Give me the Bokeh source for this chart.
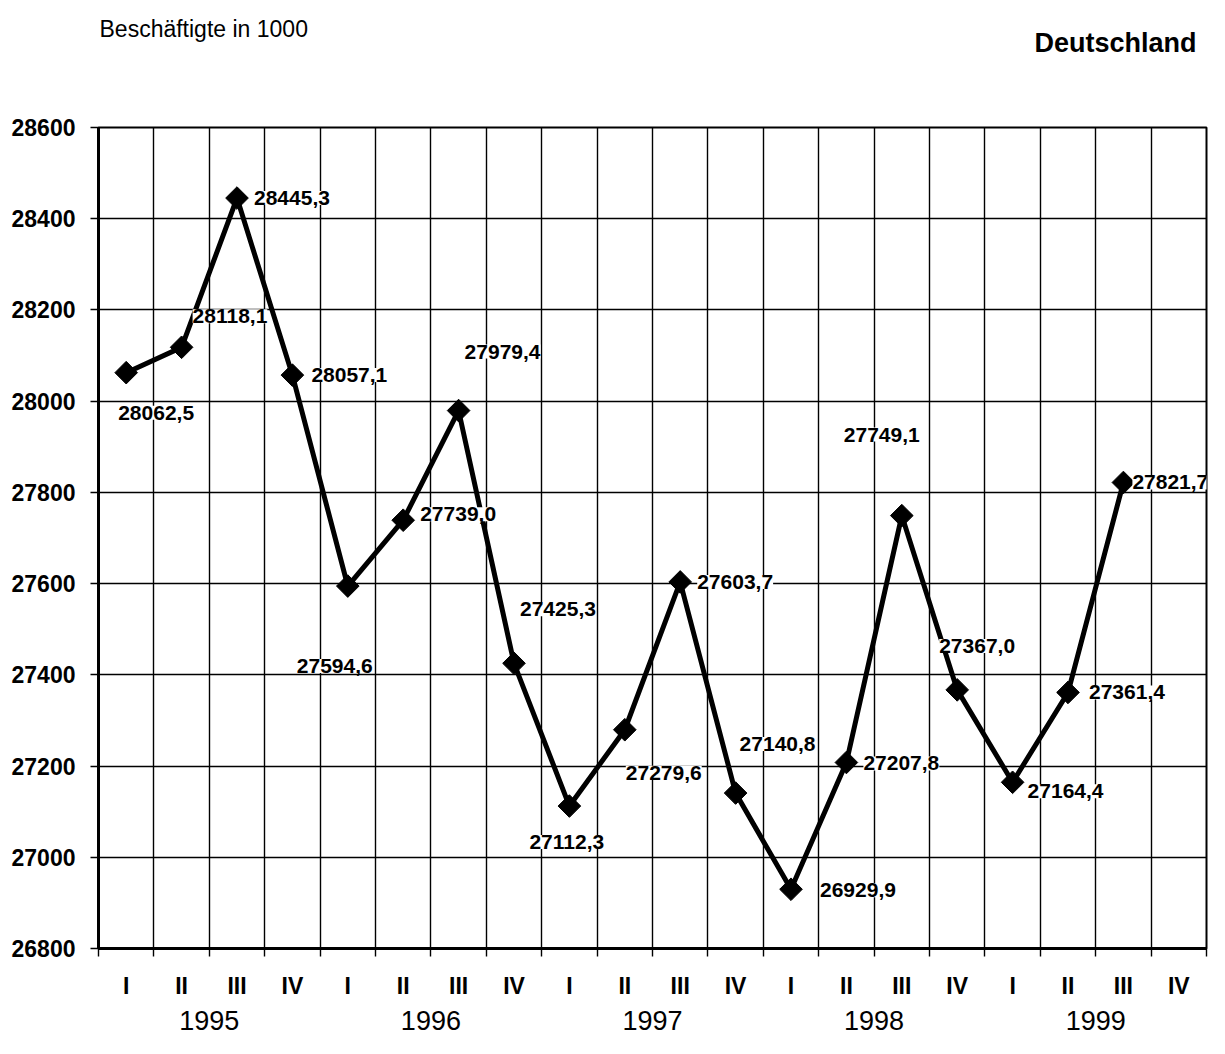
import math
from bokeh.plotting import figure
from bokeh.layouts import column
from bokeh.models import (ColumnDataSource, FixedTicker, Range1d, LabelSet, LinearAxis)
from bokeh.core.properties import value
from bokeh.embed import file_html
from bokeh.resources import INLINE

# ---- data ----
years = ["1995", "1996", "1997", "1998", "1999"]
quarters = ["I", "II", "III", "IV"]
employed = [28062.5, 28118.1, 28445.3, 28057.1,
            27594.6, 27739.0, 27979.4, 27425.3,
            27112.3, 27279.6, 27603.7, 27140.8,
            26929.9, 27207.8, 27749.1, 27367.0,
            27164.4, 27361.4, 27821.7]
y_ticks = [26800, 27000, 27200, 27400, 27600, 27800, 28000, 28200, 28400, 28600]
title_left = "Beschäftigte in 1000"
title_right = "Deutschland"

# ---- label placement (screen px offsets from each point) ----
label_dx = [-8, 11, 17, 19, -51, 17, 6, 6, -40, 1, 17, 4, 29, 17, -58, -18, 15, 21, 9]
label_dy = [-40, 31, 0, 0, -80, 6, 59, 54, -36, -43, 0, 49, -1, -1, 81, 44, -9, 0, 0]

FONT = "Liberation Sans"
W = 1209
HEAD_H = 112
LEFT, RIGHT = 98, 3

n_slots = len(years) * len(quarters)
xs = [i + 0.5 for i in range(len(employed))]
texts = [f"{v:.1f}".replace(".", ",") for v in employed]
src = ColumnDataSource(dict(x=xs, y=employed, text=texts, dx=label_dx, dy=label_dy))

# ---- header strip with the two headings (frame is aligned with the chart frame) ----
head = figure(width=W, height=HEAD_H, x_range=Range1d(LEFT, W - RIGHT), y_range=Range1d(HEAD_H, 0),
              output_backend="svg", toolbar_location=None,
              min_border_left=LEFT, min_border_right=RIGHT, min_border_top=0, min_border_bottom=0)
head.axis.visible = False
head.grid.visible = False
head.outline_line_color = None
head.text(x=[LEFT + 1], y=[28], text=[title_left], text_align="left", text_baseline="middle",
          text_font=value(FONT), text_font_size="23px", text_color="black")
head.text(x=[1196], y=[42], text=[title_right], text_align="right", text_baseline="middle",
          text_font=value(FONT), text_font_style="bold", text_font_size="27px",
          text_color="black")

# ---- main chart ----
p = figure(width=W, height=1038 - HEAD_H,
           x_range=Range1d(0, n_slots), y_range=Range1d(y_ticks[0], y_ticks[-1]),
           output_backend="svg", toolbar_location=None,
           min_border_left=LEFT, min_border_right=RIGHT,
           min_border_top=15, min_border_bottom=90)
p.background_fill_color = "white"
p.border_fill_color = "white"
p.outline_line_color = "black"
p.outline_line_width = 2

p.xgrid.ticker = FixedTicker(ticks=list(range(n_slots + 1)))
p.ygrid.ticker = FixedTicker(ticks=y_ticks)
for g in (p.xgrid, p.ygrid):
    g.grid_line_color = "black"
    g.grid_line_width = 1.4
    g.grid_line_alpha = 1

# x axis: roman numerals at slot centers, tick marks on the boundaries
xa = p.xaxis[0]
xa.ticker = FixedTicker(ticks=[i + 0.5 for i in range(n_slots)],
                        minor_ticks=list(range(n_slots + 1)))
xa.major_label_overrides = {i + 0.5: quarters[i % 4] for i in range(n_slots)}
xa.major_tick_out = 0
xa.major_tick_in = 0
xa.minor_tick_out = 8
xa.minor_tick_in = 0
xa.minor_tick_line_color = "black"
xa.minor_tick_line_width = 1.4
xa.axis_line_width = 3
xa.axis_line_color = "black"
xa.major_label_standoff = 16
xa.major_label_text_font = FONT
xa.major_label_text_font_style = "bold"
xa.major_label_text_font_size = "23px"
xa.major_label_text_color = "black"

# second axis below: years
year_ticks = [4 * i + 2 for i in range(len(years))]
ax_year = LinearAxis(ticker=FixedTicker(ticks=year_ticks),
                     major_label_overrides={t: y for t, y in zip(year_ticks, years)})
ax_year.axis_line_color = None
ax_year.major_tick_line_color = None
ax_year.minor_tick_line_color = None
ax_year.major_tick_out = 0
ax_year.major_tick_in = 0
ax_year.minor_tick_out = 0
ax_year.minor_tick_in = 0
ax_year.major_label_standoff = 9
ax_year.major_label_text_font = FONT
ax_year.major_label_text_font_size = "27px"
ax_year.major_label_text_color = "black"
p.add_layout(ax_year, "below")

# y axis
ya = p.yaxis[0]
ya.ticker = FixedTicker(ticks=y_ticks)
ya.major_tick_out = 8
ya.major_tick_in = 0
ya.minor_tick_out = 0
ya.minor_tick_in = 0
ya.axis_line_width = 3
ya.axis_line_color = "black"
ya.major_tick_line_width = 1.4
ya.major_label_standoff = 15
ya.major_label_text_font = FONT
ya.major_label_text_font_style = "bold"
ya.major_label_text_font_size = "23px"
ya.major_label_text_color = "black"

# series
p.line("x", "y", source=src, line_color="black", line_width=5, line_join="miter")
p.scatter("x", "y", source=src, marker="square", angle=math.pi / 4, size=16,
          fill_color="black", line_color="black")

labels = LabelSet(x="x", y="y", text="text", source=src,
                  x_offset="dx", y_offset="dy",
                  text_align="left", text_baseline="middle",
                  text_font=value(FONT), text_font_style="bold",
                  text_font_size="21px", text_color="black",
                  background_fill_color="white")
p.add_layout(labels)

layout = column(head, p, spacing=0)
open("out.html", "w").write(file_html(layout, INLINE))
